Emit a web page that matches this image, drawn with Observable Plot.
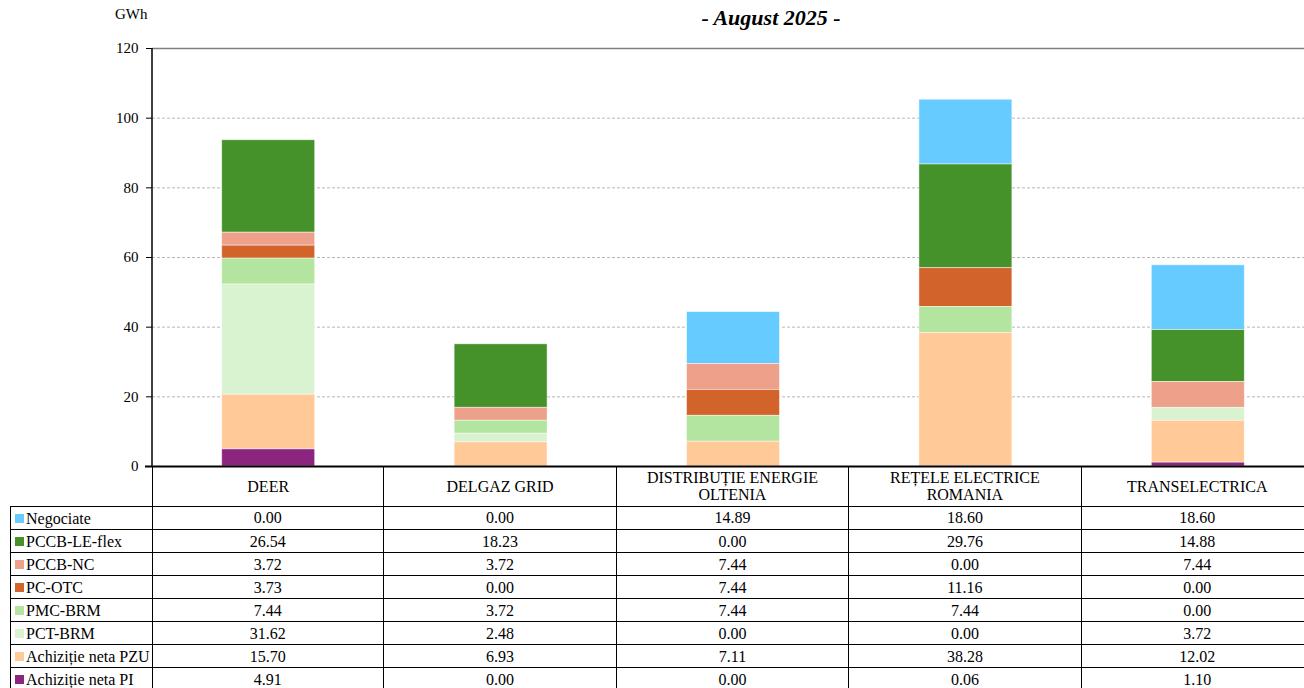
<!DOCTYPE html>
<html>
<head>
<meta charset="utf-8">
<script src="https://cdn.jsdelivr.net/npm/d3@7"></script>
<script src="https://cdn.jsdelivr.net/npm/@observablehq/plot@0.6"></script>
<style>
  html, body { margin: 0; padding: 0; background: #fff; overflow: hidden; }
  #wrap { position: relative; width: 1304px; height: 688px; overflow: hidden; font-family: "Liberation Serif", "Times New Roman", serif; }
  #chart { position: absolute; left: 0; top: 0; }
  #chart svg { max-width: none !important; overflow: visible; }
  .cell { position: absolute; box-sizing: border-box; font-size: 16px; color: #000; display: flex; align-items: center; justify-content: center; text-align: center; line-height: 17px; white-space: nowrap; }
  .leg { justify-content: flex-start; padding-left: 4px; }
  .sw { display: inline-block; width: 9px; height: 9px; margin-right: 2px; }
  #gwh { position: absolute; left: 115px; top: 6px; font-size: 15px; }
  #title { position: absolute; left: 0; width: 1542px; top: 5px; text-align: center; font-size: 22px; font-weight: bold; font-style: italic; }
</style>
</head>
<body>
<div id="wrap">
  <div id="chart"></div>
  <div id="gwh">GWh</div>
  <div id="title">- August 2025 -</div>
</div>
<script>
// ---- data ----
const categories = ["DEER", "DELGAZ GRID", "DISTRIBUȚIE ENERGIE OLTENIA", "REȚELE ELECTRICE ROMANIA", "TRANSELECTRICA"];
const categoryLines = [["DEER"], ["DELGAZ GRID"], ["DISTRIBUȚIE ENERGIE", "OLTENIA"], ["REȚELE ELECTRICE", "ROMANIA"], ["TRANSELECTRICA"]];
const seriesNames = ["Negociate", "PCCB-LE-flex", "PCCB-NC", "PC-OTC", "PMC-BRM", "PCT-BRM", "Achiziție neta PZU", "Achiziție neta PI"];
const negociate = [0.00, 0.00, 14.89, 18.60, 18.60];
const pccbLeFlex = [26.54, 18.23, 0.00, 29.76, 14.88];
const pccbNc = [3.72, 3.72, 7.44, 0.00, 7.44];
const pcOtc = [3.73, 0.00, 7.44, 11.16, 0.00];
const pmcBrm = [7.44, 3.72, 7.44, 7.44, 0.00];
const pctBrm = [31.62, 2.48, 0.00, 0.00, 3.72];
const achPzu = [15.70, 6.93, 7.11, 38.28, 12.02];
const achPi = [4.91, 0.00, 0.00, 0.06, 1.10];
const seriesValues = [negociate, pccbLeFlex, pccbNc, pcOtc, pmcBrm, pctBrm, achPzu, achPi];
const seriesColors = ["#66CCFF", "#449229", "#EDA08A", "#D2642B", "#B3E5A0", "#D9F3D0", "#FFCA98", "#8C2580"];
const yTicks = [0, 20, 40, 60, 80, 100, 120];

// long table
const rows = [];
seriesNames.forEach((s, i) => categories.forEach((c, j) => rows.push({cat: c, series: s, value: seriesValues[i][j]})));
const stackOrder = seriesNames.slice().reverse(); // bottom first

const W = 1314, ML = 152, MT = 48, MB = 10, H = 466 + MB;

const leftLine = (index, scales, values, dims) => {
  const l = document.createElementNS("http://www.w3.org/2000/svg", "line");
  l.setAttribute("x1", dims.marginLeft); l.setAttribute("x2", dims.marginLeft);
  l.setAttribute("y1", dims.marginTop); l.setAttribute("y2", dims.height - dims.marginBottom);
  l.setAttribute("stroke", "#000"); l.setAttribute("stroke-width", 1.5);
  return l;
};

const plot = Plot.plot({
  width: W, height: H,
  marginLeft: ML, marginRight: 0, marginTop: MT, marginBottom: MB,
  style: {fontFamily: "Liberation Serif, Times New Roman, serif", fontSize: "15px", background: "transparent", color: "#000"},
  x: {domain: categories, paddingInner: 0.6, paddingOuter: 0.3, round: false, axis: null},
  y: {domain: [0, 120], axis: null},
  color: {domain: seriesNames, range: seriesColors},
  marks: [
    Plot.gridY(yTicks.filter(t => t > 0 && t < 120), {stroke: "#9a9a9a", strokeOpacity: 0.7, strokeDasharray: "3,2"}),
    Plot.ruleY([120], {stroke: "#808080", strokeWidth: 1.5}),
    Plot.barY(rows.filter(d => d.value > 0), Plot.stackY({
      x: "cat", y: "value", fill: "series", order: stackOrder,
      stroke: "white", strokeWidth: 0.8, strokeOpacity: 0.6
    })),
    Plot.axisY({ticks: yTicks, tickSize: 6, tickPadding: 8, label: null, fontSize: 15, stroke: "#000"}),
    leftLine,
    Plot.ruleY([0], {stroke: "#000", strokeWidth: 2, insetLeft: -7})
  ]
});
document.getElementById("chart").appendChild(plot);

// ---- data table below the chart, aligned with the x scale ----
const xs = plot.scale("x");
const centers = categories.map(c => xs.apply(c) + xs.bandwidth / 2);
const step = centers[1] - centers[0];
const wrap = document.getElementById("wrap");
const headTop = 466, headH = 41, rowH = 23, legLeft = 10;

function cell(left, top, width, height, html, cls, borders) {
  const d = document.createElement("div");
  d.className = "cell " + (cls || "");
  Object.assign(d.style, {left: left + "px", top: top + "px", width: width + "px", height: height + "px"});
  for (const b of borders) d.style["border" + b] = "1px solid #000";
  d.innerHTML = html;
  wrap.appendChild(d);
}
categories.forEach((c, j) => {
  const left = centers[j] - step / 2;
  cell(left, headTop, step, headH, categoryLines[j].join("<br>"), "", j === 0 ? ["Left", "Right", "Bottom"] : ["Right", "Bottom"]);
});
seriesNames.forEach((s, i) => {
  const top = headTop + headH + i * rowH - (i === 0 ? 1 : 0);
  const h = rowH + (i === 0 ? 1 : 0);
  cell(legLeft, top, ML - legLeft + 1, h,
    `<span class="sw" style="background:${seriesColors[i]}"></span>${s}`, "leg",
    i === 0 ? ["Left", "Right", "Bottom", "Top"] : ["Left", "Right", "Bottom"]);
  categories.forEach((c, j) => {
    const left = centers[j] - step / 2;
    cell(left, top, step, h, seriesValues[i][j].toFixed(2), "", ["Right", "Bottom"]);
  });
});
</script>
</body>
</html>
